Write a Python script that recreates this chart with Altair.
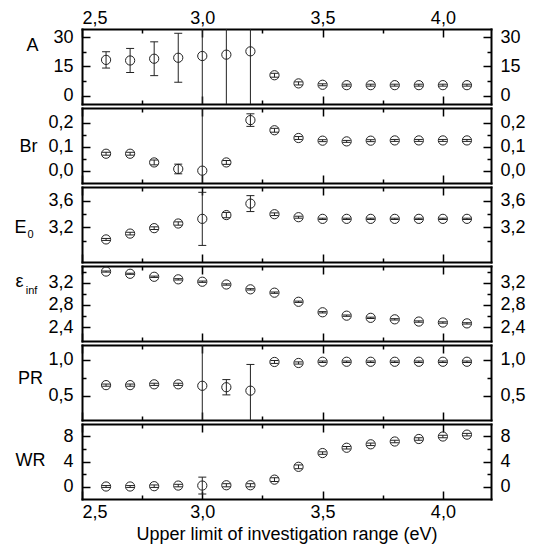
import altair as alt
import pandas as pd

FONT = "Liberation Sans"
INK = "#222222"

x_vals = [2.6, 2.7, 2.8, 2.9, 3.0, 3.1, 3.2, 3.3, 3.4, 3.5, 3.6, 3.7, 3.8, 3.9, 4.0, 4.1]

A_val = [18.4, 18.1, 19.0, 19.5, 20.4, 21.1, 22.8, 10.5, 6.3, 5.6, 5.4, 5.4, 5.4, 5.4, 5.4, 5.4]
A_err = [4.2, 6.2, 8.7, 12.6, 80, 80, 80, 1.0, 0.8, 0.5, 0.5, 0.5, 0.5, 0.5, 0.5, 0.5]

Br_val = [0.071, 0.071, 0.035, 0.008, 0.001, 0.035, 0.21, 0.168, 0.136, 0.125, 0.122, 0.125, 0.126, 0.126, 0.126, 0.126]
Br_err = [0.006, 0.006, 0.01, 0.02, 0.5, 0.008, 0.026, 0.008, 0.006, 0.004, 0.004, 0.004, 0.004, 0.004, 0.004, 0.004]

E0_val = [3.02, 3.108, 3.19, 3.26, 3.33, 3.387, 3.56, 3.40, 3.355, 3.33, 3.33, 3.33, 3.33, 3.33, 3.33, 3.33]
E0_err = [0.015, 0.02, 0.02, 0.025, 0.40, 0.04, 0.12, 0.02, 0.015, 0.01, 0.01, 0.01, 0.01, 0.01, 0.01, 0.01]

eps_val = [3.40, 3.36, 3.306, 3.26, 3.217, 3.167, 3.08, 3.02, 2.856, 2.667, 2.606, 2.567, 2.54, 2.50, 2.483, 2.467]
eps_err = [0.01, 0.01, 0.012, 0.012, 0.012, 0.012, 0.012, 0.012, 0.012, 0.012, 0.012, 0.012, 0.012, 0.012, 0.012, 0.012]

PR_val = [0.649, 0.649, 0.66, 0.66, 0.64, 0.62, 0.573, 0.967, 0.953, 0.97, 0.97, 0.97, 0.97, 0.97, 0.97, 0.97]
PR_err_up = [0.015, 0.015, 0.015, 0.015, 2.0, 0.105, 0.36, 0.02, 0.015, 0.01, 0.01, 0.01, 0.01, 0.01, 0.01, 0.01]
PR_err_dn = [0.015, 0.015, 0.015, 0.015, 2.0, 0.105, 0.45, 0.02, 0.015, 0.01, 0.01, 0.01, 0.01, 0.01, 0.01, 0.01]

WR_val = [0.0, 0.0, 0.05, 0.15, 0.15, 0.2, 0.2, 1.1, 3.15, 5.35, 6.2, 6.75, 7.2, 7.6, 8.0, 8.3]
WR_err = [0.15, 0.15, 0.2, 0.2, 1.35, 0.25, 0.25, 0.3, 0.3, 0.2, 0.2, 0.2, 0.2, 0.2, 0.2, 0.2]

X_DOMAIN = [2.5, 4.2]
X_MAJOR = [2.5, 3.0, 3.5, 4.0]
X_MINOR = [2.75, 3.25, 3.75]

PW, PH = 409, 75
MAJ, MIN = 8, 4


def fmt(dec):
    if dec == 0:
        return "format(datum.value, 'd')"
    return "replace(format(datum.value, '.%df'), '.', ',')" % dec


def common():
    return dict(domain=False, grid=False, tickColor="black", tickWidth=1.5,
                labelFont=FONT, labelFontSize=18, labelColor="black")


def frame_axis(orient):
    return alt.Axis(orient=orient, domain=True, domainColor="black", domainWidth=2,
                    domainCap="square", ticks=False, labels=False, grid=False,
                    title=None, offset=0)


def x_axis(orient, major, labels=False, title=None):
    kw = common()
    kw.update(orient=orient, values=X_MAJOR if major else X_MINOR,
              tickSize=MAJ if major else MIN, offset=-(MAJ if major else MIN),
              labels=labels)
    if labels:
        kw.update(labelExpr=fmt(1), labelPadding=2 if orient == "top" else 4)
    if title:
        kw.update(title=title, titleFont=FONT, titleFontSize=18, titleFontWeight="normal",
                  titleColor="black", titlePadding=4)
    else:
        kw.update(title=None)
    return alt.Axis(**kw)


def y_axis(orient, values, major, dec=1, title=None, tx=0, ty=0, tsize=18):
    kw = common()
    kw.update(orient=orient, values=values, tickSize=MAJ if major else MIN,
              offset=-(MAJ if major else MIN), labels=major)
    if major:
        kw.update(labelExpr=fmt(dec), labelPadding=9)
    if title:
        kw.update(title=title, titleAngle=0, titleX=tx, titleY=ty, titleAlign="center",
                  titleBaseline="middle", titleFont=FONT, titleFontSize=tsize,
                  titleFontWeight="normal", titleColor="black")
    else:
        kw.update(title=None)
    return alt.Axis(**kw)


def panel(vals, err_up, err_dn, ydom, ymaj, ymin, dec, t_main, t_pos, t_sub=None, s_pos=None,
          first=False, last=False):
    df = pd.DataFrame({
        "x": x_vals,
        "y": vals,
        "lo": [v - e for v, e in zip(vals, err_dn)],
        "hi": [v + e for v, e in zip(vals, err_up)],
    })
    xs = alt.Scale(domain=X_DOMAIN, nice=False, zero=False)
    ys = alt.Scale(domain=ydom, nice=False, zero=False)
    base = alt.Chart(df)
    frame1 = base.mark_point(opacity=0).encode(
        x=alt.X("x:Q", scale=xs, axis=frame_axis("bottom")),
        y=alt.Y("y:Q", scale=ys, axis=frame_axis("left")),
    )
    frame2 = base.mark_point(opacity=0).encode(
        x=alt.X("x:Q", scale=xs, axis=frame_axis("top")),
        y=alt.Y("y:Q", scale=ys, axis=frame_axis("right")),
    )
    rule = base.mark_rule(clip=True, color=INK, strokeWidth=1).encode(
        x=alt.X("x:Q", scale=xs, axis=x_axis("top", True, labels=first)),
        y=alt.Y("lo:Q", scale=ys, axis=y_axis("right", ymaj, True, dec)),
        y2="hi:Q",
    )
    cap_lo = base.mark_tick(orient="horizontal", size=8, thickness=1, clip=True, color=INK, opacity=1).encode(
        x=alt.X("x:Q", scale=xs, axis=x_axis("bottom", False)),
        y=alt.Y("lo:Q", scale=ys,
                axis=y_axis("left", ymin, False, title=t_sub,
                            tx=(s_pos[0] - 81 - MIN) if s_pos else 0,
                            ty=s_pos[1] if s_pos else 0, tsize=11)),
    )
    cap_hi = base.mark_tick(orient="horizontal", size=8, thickness=1, clip=True, color=INK, opacity=1).encode(
        x=alt.X("x:Q", scale=xs, axis=x_axis("top", False)),
        y=alt.Y("hi:Q", scale=ys, axis=y_axis("right", ymin, False)),
    )
    pts = base.mark_point(shape="circle", filled=False, size=85, color=INK, strokeWidth=1, opacity=1).encode(
        x=alt.X("x:Q", scale=xs,
                axis=x_axis("bottom", True, labels=last,
                            title="Upper limit of investigation range (eV)" if last else None)),
        y=alt.Y("y:Q", scale=ys,
                axis=y_axis("left", ymaj, True, dec, title=t_main,
                            tx=t_pos[0] - 81 - MAJ, ty=t_pos[1], tsize=18)),
    )
    return alt.layer(frame1, frame2, rule, cap_lo, cap_hi, pts).resolve_axis(
        x="independent", y="independent").properties(width=PW, height=PH)


pA = panel(A_val, A_err, A_err, [-4.3, 34.3], [0, 15, 30], [7.5, 22.5], 0,
           "A", (31, 16), first=True)
pBr = panel(Br_val, Br_err, Br_err, [-0.05, 0.26], [0.0, 0.1, 0.2], [0.05, 0.15], 1,
            "Br", (27, 38))
pE = panel(E0_val, E0_err, E0_err, [2.68, 3.81], [3.2, 3.6], [3.0, 3.4], 1,
           "E", (19, 40), t_sub="0", s_pos=(29, 47))
pEps = panel(eps_val, eps_err, eps_err, [2.15, 3.5], [2.4, 2.8, 3.2], [2.6, 3.0, 3.4], 1,
             "\u03b5", (18, 15), t_sub="inf", s_pos=(30, 24))
pPR = panel(PR_val, PR_err_up, PR_err_dn, [0.17, 1.2], [0.5, 1.0], [0.75], 1,
            "PR", (29, 33))
pWR = panel(WR_val, WR_err, WR_err, [-2, 10], [0, 4, 8], [2, 6], 0,
            "WR", (29, 36), last=True)

chart = alt.vconcat(pA, pBr, pE, pEps, pPR, pWR, spacing=0).properties(
    padding={"left": 5, "top": 0, "right": 0, "bottom": 0}
).configure_view(stroke=None).configure(background="white")

chart.save("out.html", embed_options={"renderer": "svg", "actions": False})
